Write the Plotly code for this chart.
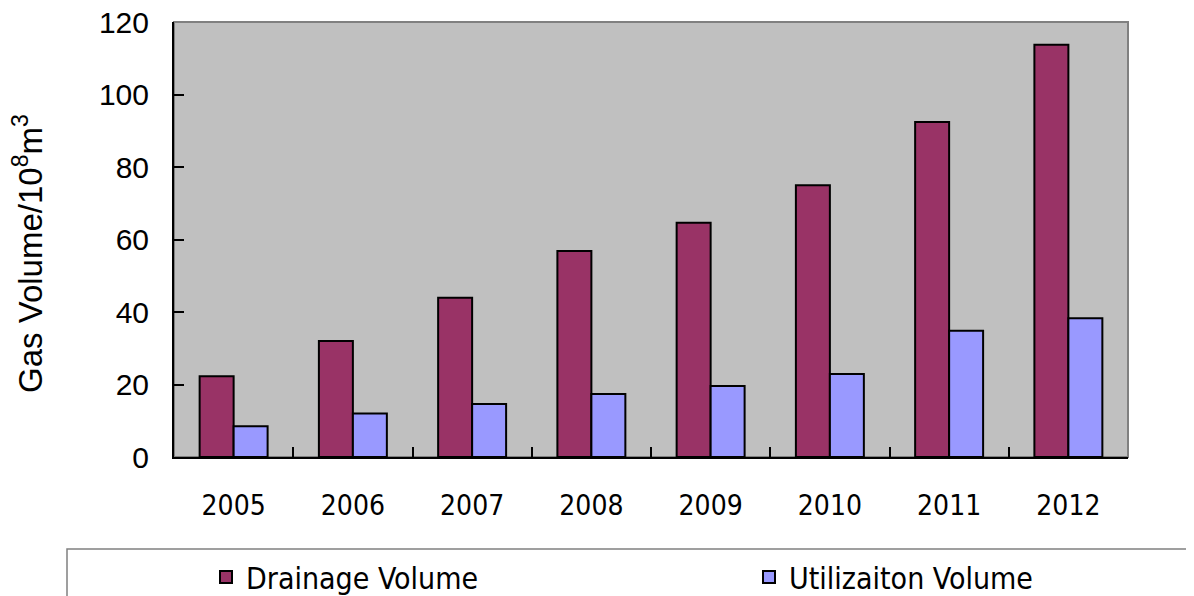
import plotly.graph_objects as go

years = ["2005", "2006", "2007", "2008", "2009", "2010", "2011", "2012"]
drainage = [22.3, 32.0, 43.9, 56.8, 64.6, 75.0, 92.4, 113.7]
utilization = [8.5, 12.0, 14.6, 17.4, 19.6, 22.9, 34.8, 38.3]
series_names = ["Drainage Volume", "Utilizaiton Volume"]
y_ticks = [0, 20, 40, 60, 80, 100, 120]
y_title = "Gas Volume/10<sup>8</sup>m<sup>3</sup>"

fig = go.Figure()
fig.add_trace(go.Bar(x=years, y=drainage, name=series_names[0], legend="legend",
                     showlegend=True,
                     marker=dict(color="#993366", line=dict(color="black", width=2))))
fig.add_trace(go.Bar(x=years, y=utilization, name=series_names[1], legend="legend2",
                     showlegend=True,
                     marker=dict(color="#9999FF", line=dict(color="black", width=2))))

# page has an 8px body margin; figure sized to fill the rest of the window
OFF = 8
W, H = 1194 - OFF, 596 - OFF
L, T = 174 - OFF, 22 - OFF
R = W - (1128 - OFF)
B = H - (457 - OFF)
pw, ph = W - L - R, H - T - B

def px_x(x):
    return (x - OFF - L) / pw

def px_y(y):
    return (H - B - (y - OFF)) / ph

narrow = "DejaVu Sans Condensed, Liberation Sans Narrow, sans-serif"
legend_common = dict(orientation="h", xanchor="left", yanchor="middle",
                     bgcolor="rgba(0,0,0,0)", itemclick=False, visible=True,
                     font=dict(family=narrow, size=30))

fig.update_layout(
    width=W, height=H,
    showlegend=True,
    margin=dict(l=L, r=R, t=T, b=B, autoexpand=False),
    paper_bgcolor="white",
    plot_bgcolor="#C0C0C0",
    barmode="group",
    bargap=0.43,
    bargroupgap=0,
    font=dict(family="Liberation Sans, Arial, sans-serif", color="black"),
    xaxis=dict(
        showgrid=False, showline=True, linecolor="black", linewidth=2,
        ticks="inside", ticklen=10, tickcolor="black", tickwidth=1.5,
        tickson="boundaries",
        tickfont=dict(family=narrow, size=28),
        ticklabelstandoff=22,
    ),
    yaxis=dict(
        range=[0, 120], tickvals=y_ticks, showgrid=False, zeroline=False,
        showline=True, linecolor="black", linewidth=2,
        ticks="inside", ticklen=10, tickcolor="black", tickwidth=1.5,
        tickfont=dict(family="Liberation Sans, Arial, sans-serif", size=30),
        ticklabelstandoff=17, ticklabeloverflow="allow",
    ),
    legend=dict(x=px_x(206), y=px_y(577), **legend_common),
    legend2=dict(x=px_x(749), y=px_y(577), **legend_common),
    annotations=[
        dict(text=y_title, xref="paper", yref="paper", x=px_x(28), y=px_y(254),
             xanchor="center", yanchor="middle", textangle=-90, showarrow=False,
             font=dict(family="Liberation Sans, Arial, sans-serif", size=33)),
    ],
    shapes=[
        dict(type="rect", xref="paper", yref="paper", x0=0, x1=1, y0=0, y1=1,
             line=dict(color="#808080", width=2), layer="below"),
        dict(type="rect", xref="paper", yref="paper",
             x0=px_x(67), x1=px_x(1300), y0=px_y(700), y1=px_y(549),
             line=dict(color="#808080", width=1.5)),
    ],
)

fig.write_html("out.html")
